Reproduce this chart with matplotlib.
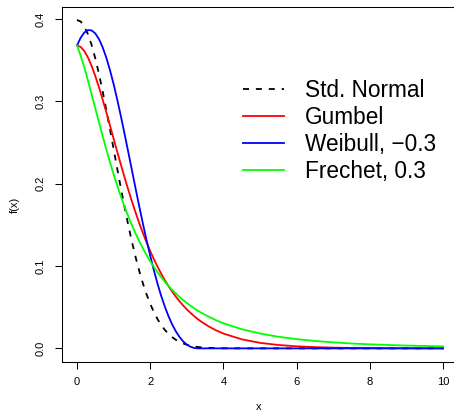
import matplotlib
matplotlib.use('Agg')
import matplotlib.pyplot as plt

plt.rcParams['font.family'] = ['Liberation Sans', 'DejaVu Sans']
plt.rcParams['lines.scale_dashes'] = False

# x grid
x = [0.0, 0.1, 0.2, 0.3, 0.4, 0.5, 0.6, 0.7, 0.8, 0.9,
     1.0, 1.1, 1.2, 1.3, 1.4, 1.5, 1.6, 1.7, 1.8, 1.9,
     2.0, 2.1, 2.2, 2.3, 2.4, 2.5, 2.6, 2.7, 2.8, 2.9,
     3.0, 3.1, 3.2, 3.3, 3.4, 3.6, 3.8, 4.0,
     4.5, 5.0, 5.5, 6.0, 6.5, 7.0, 7.5, 8.0, 8.5, 9.0, 9.5, 10.0]

std_normal = [0.3989, 0.3970, 0.3910, 0.3814, 0.3683, 0.3521, 0.3332, 0.3123, 0.2897, 0.2661,
              0.2420, 0.2179, 0.1942, 0.1714, 0.1497, 0.1295, 0.1109, 0.0940, 0.0790, 0.0656,
              0.0540, 0.0440, 0.0355, 0.0283, 0.0224, 0.0175, 0.0136, 0.0104, 0.0079, 0.0060,
              0.0044, 0.0033, 0.0024, 0.0017, 0.0012, 0.0006, 0.0003, 0.0001,
              0.0, 0.0, 0.0, 0.0, 0.0, 0.0, 0.0, 0.0, 0.0, 0.0, 0.0, 0.0]

gumbel = [0.3679, 0.3661, 0.3611, 0.3532, 0.3429, 0.3307, 0.3170, 0.3022, 0.2867, 0.2707,
          0.2546, 0.2386, 0.2229, 0.2075, 0.1927, 0.1785, 0.1650, 0.1522, 0.1401, 0.1288,
          0.1182, 0.1083, 0.0992, 0.0907, 0.0828, 0.0756, 0.0690, 0.0628, 0.0572, 0.0521,
          0.0474, 0.0431, 0.0392, 0.0355, 0.0323, 0.0266, 0.0219, 0.0180,
          0.0110, 0.0067, 0.0041, 0.0025, 0.0015, 0.0009, 0.00055, 0.00034, 0.0002, 0.00012,
          0.00007, 0.00005]

weibull = [0.3679, 0.3774, 0.3837, 0.3866, 0.3862, 0.3825, 0.3756, 0.3657, 0.3531, 0.3380,
           0.3209, 0.3019, 0.2816, 0.2603, 0.2385, 0.2163, 0.1942, 0.1725, 0.1515, 0.1314,
           0.1125, 0.0948, 0.0785, 0.0637, 0.0506, 0.0390, 0.0290, 0.0207, 0.0139, 0.0085,
           0.0046, 0.0020, 0.0005, 0.0000, 0.0, 0.0, 0.0, 0.0,
           0.0, 0.0, 0.0, 0.0, 0.0, 0.0, 0.0, 0.0, 0.0, 0.0, 0.0, 0.0]

frechet = [0.3679, 0.3555, 0.3410, 0.3250, 0.3084, 0.2913, 0.2744, 0.2578, 0.2416, 0.2262,
           0.2114, 0.1975, 0.1843, 0.1719, 0.1604, 0.1496, 0.1395, 0.1302, 0.1215, 0.1134,
           0.1059, 0.0989, 0.0925, 0.0865, 0.0809, 0.0758, 0.0710, 0.0666, 0.0625, 0.0586,
           0.0551, 0.0518, 0.0487, 0.0458, 0.0431, 0.0384, 0.0342, 0.0305,
           0.0233, 0.0180, 0.0141, 0.0112, 0.0090, 0.0073, 0.0059, 0.0049, 0.0041, 0.0034,
           0.0029, 0.0024]

labels = ['Std. Normal', 'Gumbel', 'Weibull, \u22120.3', 'Frechet, 0.3']
colors = ['black', '#FF0000', '#0000FF', '#00FF00']

xticks = [0, 2, 4, 6, 8, 10]
yticks = [0.0, 0.1, 0.2, 0.3, 0.4]

W, H = 454, 415
fig = plt.figure(figsize=(W / 100, H / 100), dpi=100)
ax = fig.add_axes([62.4 / W, 53.5 / H, 395.2 / W, 354.7 / H])

series = [std_normal, gumbel, weibull, frechet]
for i, (ys, lab, c) in enumerate(zip(series, labels, colors)):
    if i == 0:
        ax.plot(x, ys, color=c, lw=1.3, linestyle=(0, (4.3, 5.0)), label=lab)
    else:
        ax.plot(x, ys, color=c, lw=1.3, label=lab)

ax.set_xlim(-0.4, 10.4)
ax.set_ylim(-0.01596, 0.4149)
ax.set_xticks(xticks)
ax.set_xticklabels([str(t) for t in xticks])
ax.set_yticks(yticks)
ax.set_yticklabels(['%.1f' % t for t in yticks], rotation=90, va='center')
ax.tick_params(axis='both', length=5.2, width=0.75, labelsize=8, color='black')
ax.tick_params(axis='x', pad=6)
ax.tick_params(axis='y', pad=7)
for s in ax.spines.values():
    s.set_linewidth(0.75)
    s.set_color('black')

fig.text(15 / W, 1 - 205 / H, 'f(x)', rotation=90, ha='center', va='center', fontsize=8)
fig.text(259 / W, 1 - 407 / H, 'x', ha='center', va='center', fontsize=8)

ax.legend(loc='upper left', bbox_to_anchor=(243 / W, 1 - 79 / H),
          bbox_transform=fig.transFigure, frameon=False, fontsize=16.3,
          borderaxespad=0, borderpad=0, handlelength=1.8, handletextpad=0.95,
          labelspacing=0.18)

fig.savefig('out.png', dpi=100)
